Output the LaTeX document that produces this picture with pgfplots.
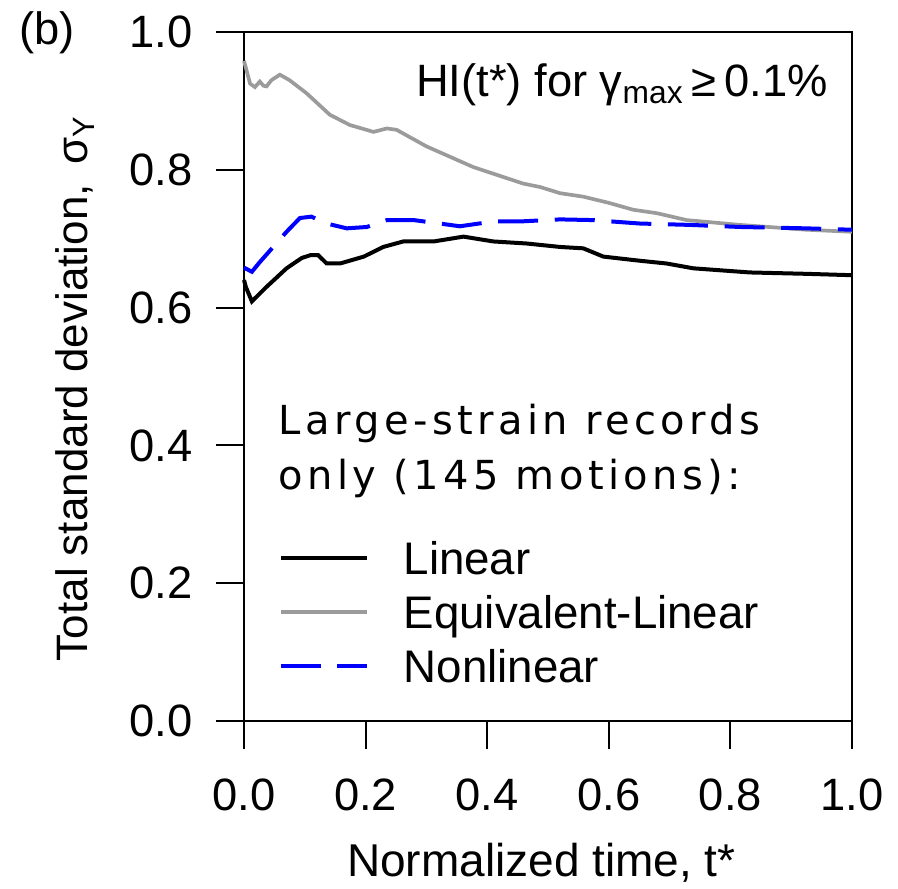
\documentclass[border=0pt]{standalone}
\usepackage{pgfplots}
\pgfplotsset{compat=1.18}
\usepackage{fontspec}
\setmainfont{Liberation Sans}
\newfontfamily\verd[LetterSpace=11]{DejaVu Sans}
\definecolor{elgray}{RGB}{155,155,155}
\begin{document}
\begin{tikzpicture}
\useasboundingbox (-73.2pt,-50.4pt) rectangle (196.2pt,216.3pt);
\begin{axis}[
  scale only axis, width=182.4pt, height=206.7pt,
  at={(0,0)}, anchor=south west,
  xmin=0, xmax=1, ymin=0, ymax=1,
  xtick={0,0.2,0.4,0.6,0.8,1.0},
  ytick={0,0.2,0.4,0.6,0.8,1.0},
  tick pos=left, tick align=outside,
  major tick length=8.4pt,
  tick style={line width=0.6pt, black},
  axis line style={line width=0.7pt},
  /pgf/number format/.cd, fixed, fixed zerofill, precision=1, assume math mode=true,
  /pgfplots/.cd,
  tick label style={font=\fontsize{13.6}{16}\selectfont},
  xticklabel style={yshift=-5.5pt},
  yticklabel style={xshift=-3.6pt},
  xlabel={Normalized time, t*},
  ylabel={Total standard deviation,\, σ\textsubscript{Y}},
  xlabel style={font=\fontsize{13.8}{16}\selectfont, at={(axis description cs:0.489,-0.2264)}, anchor=base},
  ylabel style={font=\fontsize{13.2}{15}\selectfont, at={(axis description cs:-0.258,0.483)}, anchor=base},
  clip=false,
  legend style={at={(axis description cs:0.0559,0.2617)}, anchor=north west,
    draw=none, fill=none, inner xsep=0pt, inner ysep=0pt,
    font=\fontsize{13.7}{16}\selectfont,
    nodes={inner sep=0pt, text height=9.8pt, text depth=0pt},
    row sep=6.4pt, column sep=10.5pt},
  legend cell align=left,
  legend image code/.code={\draw[#1] (0pt,0pt) -- (25.8pt,0pt);},
]
\addplot[black, line width=1.2pt] coordinates {
(0.000,0.640) (0.003,0.630) (0.013,0.609) (0.037,0.630) (0.070,0.657) (0.095,0.672) (0.109,0.676) (0.122,0.676) (0.136,0.664) (0.158,0.664) (0.197,0.674) (0.229,0.688) (0.262,0.696) (0.312,0.696) (0.361,0.703) (0.410,0.696) (0.465,0.693) (0.520,0.688) (0.558,0.686) (0.591,0.674) (0.651,0.668) (0.695,0.664) (0.739,0.657) (0.832,0.651) (0.925,0.649) (1.000,0.647)
};
\addlegendentry{Linear}
\addplot[elgray, line width=1.1pt] coordinates {
(0.000,0.958) (0.004,0.945) (0.010,0.925) (0.018,0.920) (0.026,0.928) (0.032,0.922) (0.037,0.921) (0.045,0.930) (0.059,0.938) (0.075,0.930) (0.103,0.911) (0.141,0.880) (0.174,0.865) (0.213,0.855) (0.235,0.860) (0.251,0.858) (0.300,0.834) (0.377,0.804) (0.459,0.780) (0.487,0.775) (0.520,0.766) (0.558,0.761) (0.600,0.752) (0.640,0.742) (0.679,0.737) (0.728,0.727) (0.816,0.720) (0.925,0.713) (1.000,0.710)
};
\addlegendentry{Equivalent-Linear}
\addplot[blue, line width=1.2pt, dash pattern=on 12pt off 5pt] coordinates {
(0.000,0.658) (0.013,0.652) (0.025,0.665) (0.048,0.688) (0.070,0.710) (0.092,0.730) (0.111,0.732) (0.125,0.726) (0.136,0.722) (0.169,0.715) (0.202,0.717) (0.235,0.727) (0.279,0.727) (0.322,0.722) (0.355,0.718) (0.410,0.725) (0.454,0.725) (0.520,0.728) (0.574,0.727) (0.651,0.722) (0.734,0.720) (0.816,0.717) (0.925,0.715) (1.000,0.713)
};
\addlegendentry{Nonlinear}
\node[anchor=base east, font=\fontsize{13.6}{16}\selectfont, inner sep=0pt] at (axis description cs:0.961,0.906) {HI(t*) for γ\textsubscript{max}\,≥\,0.1\%};
\node[anchor=base west, font=\verd\fontsize{12}{14}\selectfont, inner sep=0pt] at (axis description cs:0.0559,0.4158) {Large-strain records};
\node[anchor=base west, font=\verd\fontsize{12}{14}\selectfont, inner sep=0pt] at (axis description cs:0.0559,0.3360) {only (145 motions):};
\node[anchor=center, font=\fontsize{13.6}{16}\selectfont, inner sep=0pt] at (axis description cs:-0.324,0.9985) {(b)};
\end{axis}
\end{tikzpicture}
\end{document}
